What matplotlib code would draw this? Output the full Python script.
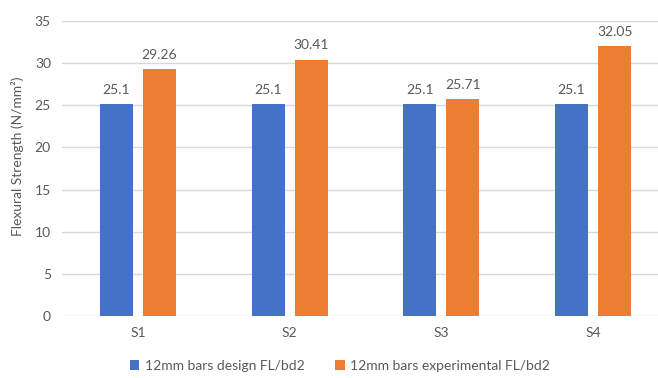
import numpy as np
import matplotlib
matplotlib.use("Agg")
import matplotlib.pyplot as plt

# Flexural strength per specimen, 12mm bars
specimens = ["S1", "S2", "S3", "S4"]
design_fl = [25.1, 25.1, 25.1, 25.1]
experimental_fl = [29.26, 30.41, 25.71, 32.05]
series_labels = ["12mm bars design FL/bd2", "12mm bars experimental FL/bd2"]

BLUE = "#4472C4"
ORANGE = "#ED7D31"
TEXT = "#595959"
GRID = "#D9D9D9"

plt.rcParams["font.family"] = ["Lato", "DejaVu Sans"]

fig = plt.figure(figsize=(6.58, 3.78), dpi=100)
ax = fig.add_axes([62 / 658, 62 / 378, 607 / 658, 295 / 378])

x = np.arange(len(specimens))
width = 0.2175
offset = 0.142

bars1 = ax.bar(x - offset, design_fl, width, color=BLUE, label=series_labels[0], zorder=3)
bars2 = ax.bar(x + offset, experimental_fl, width, color=ORANGE, label=series_labels[1], zorder=3)

for bars, vals in ((bars1, design_fl), (bars2, experimental_fl)):
    for b, v in zip(bars, vals):
        ax.annotate(f"{v:g}", (b.get_x() + b.get_width() / 2, v),
                    xytext=(0, 6), textcoords="offset points",
                    ha="center", va="bottom", fontsize=10, color=TEXT)

ax.set_xlim(-0.5, len(specimens) - 0.5)
ax.set_ylim(0, 35)
ax.set_yticks(range(0, 36, 5))
ax.set_xticks(x)
ax.set_xticklabels(specimens)
ax.tick_params(axis="both", length=0, labelsize=10, labelcolor=TEXT)
ax.tick_params(axis="x", pad=8)
ax.tick_params(axis="y", pad=8)
ax.grid(axis="y", color=GRID, linewidth=1, zorder=0)
for s in ax.spines.values():
    s.set_visible(False)

ax.set_ylabel("Flexural Strength (N/mm²)", fontsize=10, color=TEXT)
ax.yaxis.set_label_coords(-0.062, 0.54)

fig.legend(handles=[bars1, bars2], labels=series_labels, loc="center",
           bbox_to_anchor=(340 / 658, 1 - 366 / 378), ncol=2, frameon=False,
           fontsize=10, labelcolor=TEXT, handlelength=0.7, handleheight=0.7,
           handletextpad=0.4, columnspacing=2.2)

fig.savefig("out.png", dpi=100)
